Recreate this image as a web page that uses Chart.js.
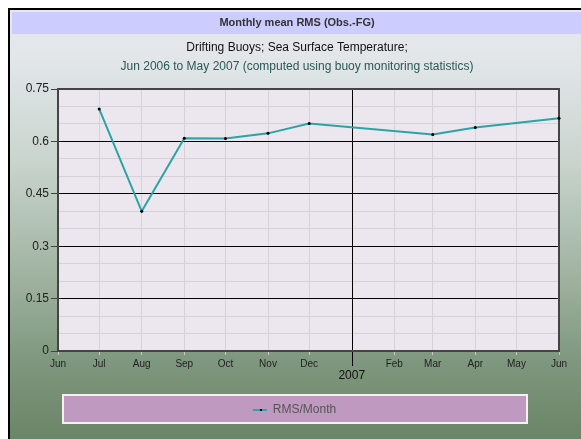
<!DOCTYPE html>
<html>
<head>
<meta charset="utf-8">
<script src="https://cdn.jsdelivr.net/npm/chart.js@4.4.0/dist/chart.umd.min.js"></script>
<style>
  html, body { margin: 0; padding: 0; background: #fff; }
  #wrap { position: relative; width: 581px; height: 439px; }
</style>
</head>
<body>
<div id="wrap"><canvas id="rmsChart" width="581" height="439"></canvas></div>
<script>
// data
var pointMonths = ["2006-07", "2006-08", "2006-09", "2006-10", "2006-11", "2006-12", "2007-03", "2007-04", "2007-06"];
var rmsValues = [0.693, 0.400, 0.609, 0.608, 0.623, 0.651, 0.620, 0.640, 0.666];

// x axis ticks (one per month), Jan is replaced by the year
var tickMonths = ["2006-06", "2006-07", "2006-08", "2006-09", "2006-10", "2006-11", "2006-12",
                  "2007-01", "2007-02", "2007-03", "2007-04", "2007-05", "2007-06"];
var tickLabels = ["Jun", "Jul", "Aug", "Sep", "Oct", "Nov", "Dec", ["", "2007"], "Feb", "Mar", "Apr", "May", "Jun"];
var yMajorTicks = [0, 0.15, 0.3, 0.45, 0.6, 0.75];

var FONT = "'Liberation Sans', Arial, sans-serif";
var LINE_COLOR = "#2aa4a4";
Chart.defaults.font.family = FONT;

function dayOf(ym) {
  var p = ym.split("-");
  return Date.UTC(+p[0], +p[1] - 1, 1) / 86400000;
}
var yearStart = dayOf("2007-01");

function isMajor(v) {
  return yMajorTicks.some(function (t) { return Math.abs(t - v) < 1e-6; });
}

var points = pointMonths.map(function (m, i) {
  return { x: dayOf(m), y: rmsValues[i] };
});

// background, title band, plot frame etc.
var decor = {
  id: "decor",
  afterLayout: function (chart) {
    // legend sits centred on the purple box, not on the plot
    chart.legend.left += 11;
    chart.legend.right += 11;
  },
  beforeDraw: function (chart) {
    var ctx = chart.ctx, a = chart.chartArea;
    ctx.save();
    ctx.fillStyle = "#fff";
    ctx.fillRect(0, 0, chart.width, chart.height);

    var g = ctx.createLinearGradient(0, 8, 0, chart.height);
    g.addColorStop(0, "#e6e8ed");
    g.addColorStop(0.12, "#e2e6e9");
    g.addColorStop(0.35, "#c9d5ce");
    g.addColorStop(0.62, "#a0b3a0");
    g.addColorStop(0.82, "#7e977e");
    g.addColorStop(1, "#6b8568");
    ctx.fillStyle = g;
    ctx.fillRect(8, 8, chart.width - 8, chart.height - 8);

    ctx.fillStyle = "#000";
    ctx.fillRect(8, 8, chart.width - 8, 2);
    ctx.fillRect(8, 8, 2, chart.height - 8);

    ctx.fillStyle = "#ccccff";
    ctx.fillRect(12, 12, chart.width - 12, 22);

    ctx.textAlign = "center";
    ctx.textBaseline = "middle";
    ctx.fillStyle = "#333";
    ctx.font = "bold 11px " + FONT;
    ctx.fillText("Monthly mean RMS (Obs.-FG)", 297, 23);
    ctx.fillStyle = "#111";
    ctx.font = "12px " + FONT;
    ctx.fillText("Drifting Buoys; Sea Surface Temperature;", 297, 48);
    ctx.fillStyle = "#2a5858";
    ctx.fillText("Jun 2006 to May 2007 (computed using buoy monitoring statistics)", 297, 67);

    ctx.fillStyle = "#ece6ee";
    ctx.fillRect(a.left, a.top, a.right - a.left, a.bottom - a.top);

    // legend box
    ctx.fillStyle = "#bf99bf";
    ctx.fillRect(63, 395, 464, 28);
    ctx.strokeStyle = "#f4f0f4";
    ctx.lineWidth = 2;
    ctx.strokeRect(63, 395, 464, 28);
    ctx.restore();
  },
  beforeDatasetsDraw: function (chart) {
    var ctx = chart.ctx, a = chart.chartArea;
    var xs = chart.scales.x;
    ctx.save();
    // year boundary line, running on below the axis
    var px = Math.round(xs.getPixelForValue(yearStart)) + 0.5;
    ctx.strokeStyle = "#000";
    ctx.lineWidth = 1;
    ctx.beginPath();
    ctx.moveTo(px, a.top);
    ctx.lineTo(px, a.bottom + 15);
    ctx.stroke();
    ctx.strokeStyle = "#444";
    ctx.lineWidth = 2;
    ctx.strokeRect(a.left, a.top, a.right - a.left, a.bottom - a.top);
    ctx.restore();
  },
  afterDraw: function (chart) {
    // small black dot in the middle of the legend line
    var ctx = chart.ctx, box = chart.legend.legendHitBoxes[0];
    if (!box) return;
    ctx.save();
    ctx.fillStyle = "#000";
    ctx.fillRect(Math.round(box.left + 7), Math.round(box.top + box.height / 2) - 1, 2, 2);
    ctx.restore();
  }
};

var ctx = document.getElementById("rmsChart").getContext("2d");

var rmsChart = new Chart(ctx, {
  type: "line",
  data: {
    datasets: [
      {
        label: "RMS/Month",
        data: points,
        borderColor: LINE_COLOR,
        backgroundColor: LINE_COLOR,
        borderWidth: 2,
        tension: 0,
        pointRadius: 1.5,
        pointBackgroundColor: "#000",
        pointBorderWidth: 0,
        clip: false
      }
    ]
  },
  options: {
    responsive: false,
    animation: false,
    layout: { padding: { left: 8, right: 22, top: 89, bottom: 13 } },
    plugins: {
      title: { display: false },
      tooltip: { enabled: false },
      legend: {
        position: "bottom",
        labels: {
          usePointStyle: true,
          pointStyleWidth: 14,
          color: "#555",
          font: { size: 12 },
          padding: 10,
          generateLabels: function (chart) {
            return chart.data.datasets.map(function (ds, i) {
              return {
                text: ds.label,
                datasetIndex: i,
                fillStyle: ds.borderColor,
                strokeStyle: ds.borderColor,
                lineWidth: 2,
                pointStyle: "line",
                fontColor: "#555",
                hidden: false
              };
            });
          }
        }
      }
    },
    scales: {
      x: {
        type: "linear",
        min: dayOf("2006-06"),
        max: dayOf("2007-06"),
        afterBuildTicks: function (scale) {
          scale.ticks = tickMonths.map(function (m) { return { value: dayOf(m) }; });
        },
        afterFit: function (scale) { scale.height = 43; },
        border: { display: false },
        grid: {
          color: function (c) {
            return c.tick && c.tick.value === yearStart ? "rgba(0,0,0,0)" : "#d7d0d8";
          },
          tickColor: function (c) {
            return c.tick && c.tick.value === yearStart ? "rgba(0,0,0,0)" : "#c8c8c8";
          },
          tickLength: 4
        },
        ticks: {
          autoSkip: false,
          maxRotation: 0,
          padding: 3,
          color: function (c) {
            return c.tick && c.tick.value === yearStart ? "#111" : "#222";
          },
          font: function (c) {
            return c.tick && c.tick.value === yearStart
              ? { size: 12, lineHeight: 1 }
              : { size: 10, lineHeight: 1.2 };
          },
          callback: function (v, i) { return tickLabels[i]; }
        }
      },
      y: {
        min: 0,
        max: 0.75,
        afterFit: function (scale) { scale.width = 50; },
        border: { display: false },
        grid: {
          color: function (c) {
            var v = c.tick ? c.tick.value : 0;
            return isMajor(v) && v > 0.01 && v < 0.74 ? "#000" : "#d7d0d8";
          },
          tickColor: function (c) {
            return c.tick && isMajor(c.tick.value) ? "#444" : "rgba(0,0,0,0)";
          },
          tickLength: 7
        },
        ticks: {
          stepSize: 0.05,
          maxTicksLimit: 20,
          padding: 2,
          color: "#222",
          font: { size: 12 },
          callback: function (v) { return isMajor(v) ? String(Math.round(v * 100) / 100) : ""; }
        }
      }
    }
  },
  plugins: [decor]
});
</script>
</body>
</html>
